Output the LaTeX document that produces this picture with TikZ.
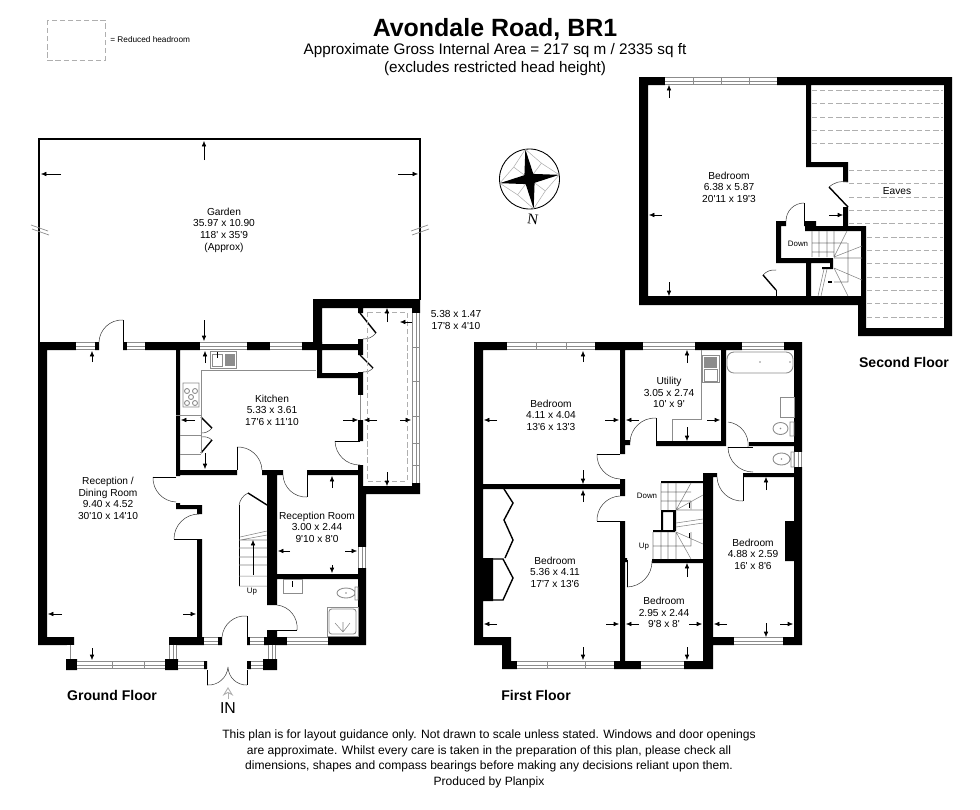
\documentclass[tikz,border=0pt]{standalone}
\usepackage{fontspec}
\usepackage{xcolor}
\usepackage{tikz}
\usetikzlibrary{arrows.meta,shapes.geometric}
\newfontfamily\plansans{Liberation Sans}
\newfontfamily\compassserif{Liberation Serif}
\definecolor{fixgray}{RGB}{140,140,140}
\definecolor{stairgray}{RGB}{130,130,130}

\begin{document}
\begin{tikzpicture}[
    x=0.02cm, y=-0.02cm,
    wall/.style={fill=black},
    win/.style={draw=fixgray, line width=4.5pt, postaction={draw=white, line width=3.7pt}, postaction={draw=fixgray, line width=0.4pt}},
    winbar/.style={draw=fixgray, line width=0.4pt},
    swing/.style={draw=black!75, line width=0.3pt},
    leaf/.style={draw=black, line width=0.8pt},
    fixture/.style={draw=fixgray, line width=0.5pt},
    tread/.style={draw=stairgray, line width=0.3pt},
    roomline/.style={draw=black, line width=0.45pt},
    hidden/.style={draw=fixgray!70, line width=0.35pt, dash pattern=on 3pt off 1.6pt},
    dimarrow/.style={-{Latex[length=3pt,width=2.6pt]}, draw=black, line width=0.3pt},
    room/.style={font=\plansans\fontsize{5.8}{6.6}\selectfont, align=center, inner sep=0pt},
    small/.style={font=\plansans\fontsize{4.5}{5.5}\selectfont, inner sep=0pt},
    floorname/.style={font=\plansans\bfseries\fontsize{8}{9.5}\selectfont, inner sep=0pt},
    note/.style={font=\plansans\fontsize{6.87}{8.85}\selectfont, align=center, inner sep=0pt}
]
\useasboundingbox (0,0) rectangle (980,809);

% Heading
\node[font=\plansans\bfseries\fontsize{14.2}{16}\selectfont, inner sep=0pt] (title) at (495,29) {Avondale Road, BR1};
\node[font=\plansans\fontsize{8.7}{10.2}\selectfont, align=center, inner sep=0pt] (area) at (495,60) {Approximate Gross Internal Area = 217 sq m / 2335 sq ft\\(excludes restricted head height)};
\draw[hidden] (47,20) rectangle (105,60);
\node[small, anchor=west, font=\plansans\fontsize{4.7}{5.5}\selectfont] (legend) at (110,40) {= Reduced headroom};

% Compass
\begin{scope}[shift={(529.5,179)}, rotate=8]
\draw[black, line width=0.5pt] (0,0) circle (30);
\draw[fixgray!70, line width=0.3pt] (0,-30) -- (14,-14) -- (30,0) -- (14,14) -- (0,30) -- (-14,14) -- (-30,0) -- (-14,-14) -- cycle;
\draw[fixgray!70, line width=0.3pt] (14,-14) -- (-14,14) (-14,-14) -- (14,14);
\fill[black] (0,-30) -- (4.5,-4.5) -- (30,0) -- (4.5,4.5) -- (0,30) -- (-4.5,4.5) -- (-30,0) -- (-4.5,-4.5) -- cycle;
\end{scope}
\node[font=\compassserif\fontsize{8.5}{9}\selectfont, rotate=-8, inner sep=0pt] (north) at (533,219) {N};

% Garden
\draw[draw=black, line width=1.2pt] (39,342) -- (39,139) -- (420,139) -- (420,300);
\draw[fixgray, line width=0.4pt] (31,225) -- (48,231) (32,229) -- (49,235) (411,231) -- (428,225) (412,235) -- (429,229);

% Ground floor walls
\fill[wall] (38,342) rectangle (76,350) (95,342) rectangle (99,350) (123,342) rectangle (127,350)
  (145,342) rectangle (200,350) (247,342) rectangle (270,350) (302,342) rectangle (322,350)
  (38,350) rectangle (47,645) (38,637) rectangle (74,645) (169,637) rectangle (204,645)
  (66,659) rectangle (77,670) (165,659) rectangle (178,670) (204,661) rectangle (207,669)
  (247,661) rectangle (251,669) (263,659) rectangle (277,670) (218,637) rectangle (222,645)
  (247,637) rectangle (250,645) (264,637) rectangle (287,645) (267,630) rectangle (277,637)
  (328,637) rectangle (366,645) (358,568) rectangle (366,645) (358,487) rectangle (366,547)
  (358,465) rectangle (363,490) (363,486) rectangle (419,494) (412,483) rectangle (420,494)
  (176,350) rectangle (180,476) (180,470) rectangle (237,475) (262,470) rectangle (283,475)
  (267,475) rectangle (277,605) (307,470) rectangle (358,475) (176,503) rectangle (180,509)
  (176,505) rectangle (202,509) (197,509) rectangle (202,514) (197,539) rectangle (202,637)
  (277,574) rectangle (358,579);
% Kitchen side rooms
\fill[wall] (313,299) rectangle (322,344) (313,299) rectangle (420,308) (412,308) rectangle (420,313)
  (317,344) rectangle (363,350) (358,308) rectangle (363,313) (358,339) rectangle (363,344)
  (358,350) rectangle (363,355) (317,350) rectangle (322,378) (317,373) rectangle (363,378)
  (358,372) rectangle (363,395) (358,420) rectangle (363,441);
% First floor walls
\fill[wall] (474,342) rectangle (507,350) (595,342) rectangle (643,350) (695,342) rectangle (742,350)
  (784,342) rectangle (802,350) (474,350) rectangle (483,645) (474,637) rectangle (511,645)
  (502,645) rectangle (511,669) (502,661) rectangle (517,669) (614,661) rectangle (641,669)
  (684,661) rectangle (713,669) (703,473) rectangle (713,661) (703,473) rectangle (717,477)
  (713,637) rectangle (734,645) (783,637) rectangle (802,645) (794,350) rectangle (802,452)
  (794,467) rectangle (802,637) (785,521) rectangle (794,561) (483,484) rectangle (625,489)
  (620,350) rectangle (625,454) (620,440) rectangle (630,445) (620,479) rectangle (625,496)
  (620,521) rectangle (625,661) (625,558) rectangle (627,562) (656,441) rectangle (726,446)
  (721,350) rectangle (726,446) (749,442) rectangle (794,446) (743,473) rectangle (794,477)
  (661,481) rectangle (703,483) (653,530) rectangle (675,532) (652,559) rectangle (703,563)
  (483,558) rectangle (493,601) (661,510) rectangle (675,512) (661,510) rectangle (663,531)
  (673,510) rectangle (676,531);
% Second floor walls
\fill[wall] (639,77) rectangle (665,85) (777,77) rectangle (952,85) (639,85) rectangle (648,305)
  (639,296) rectangle (866,305) (944,85) rectangle (952,336) (858,328) rectangle (952,336)
  (858,296) rectangle (866,336) (806,85) rectangle (811,167) (806,162) rectangle (848,167)
  (843,167) rectangle (848,182) (843,207) rectangle (848,231) (804,221) rectangle (816,226)
  (805,226) rectangle (866,231) (861,231) rectangle (866,297) (776,221) rectangle (786,226)
  (776,226) rectangle (781,263) (776,258) rectangle (833,263) (806,263) rectangle (811,297)
  (830,260) rectangle (833,269) (822,267) rectangle (833,269);

% Windows
\draw[win] (76,346) -- (95,346) (127,346) -- (145,346) (200,346) -- (247,346) (270,346) -- (302,346);
\draw[win] (70.5,645) -- (70.5,659) (173,645) -- (173,659) (77,665) -- (165,665) (178,665) -- (204,665);
\draw[win] (204,641) -- (218,641) (250,641) -- (264,641) (251,665) -- (263,665) (272,645) -- (272,659);
\draw[win] (287,641) -- (328,641) (362,547) -- (362,568) (360.5,395) -- (360.5,420) (416,313) -- (416,483);
\draw[win] (507,346) -- (595,346) (643,346) -- (695,346) (742,346) -- (784,346) (798,452) -- (798,467);
\draw[win] (734,641) -- (783,641) (517,665) -- (614,665) (641,665) -- (684,665);
\draw[win] (665,81) -- (777,81);
\draw[winbar] (112,661) -- (112,669) (144,661) -- (144,669) (412,347) -- (420,347) (412,381) -- (420,381)
  (412,416) -- (420,416) (412,443) -- (420,443) (412,465) -- (420,465) (536,342) -- (536,350)
  (566,342) -- (566,350) (547,661) -- (547,669) (585,661) -- (585,669) (693,77) -- (693,85)
  (721,77) -- (721,85) (749,77) -- (749,85);

% Door swings
\draw[swing] (99,342) to[bend left=45] (123,320) (176,502) to[bend left=45] (153,477)
  (174,539) to[bend left=45] (199,514) (237,447) to[bend left=45] (262,470)
  (307,497) to[bend left=45] (283,475) (360,465) to[bend left=45] (335,441)
  (277,605) to[bend left=45] (297,630) (222,637) to[bend left=45] (247,616)
  (228,667) to[bend left=45] (207,685) (247,685) to[bend left=45] (228,667)
  (630,442) to[bend left=45] (656,418) (620,479) to[bend left=45] (597,454)
  (597,521) to[bend left=45] (620,496) (652,561) to[bend left=45] (627,587)
  (728,422) to[bend left=45] (748,447) (753,472) to[bend left=45] (728,447)
  (743,501) to[bend left=45] (717,477) (786,221) to[bend left=45] (804,203);
\draw[swing] (829,187) to[bend left=25] (848,182) (763,275) to[bend left=25] (776,270)
  (376,333) to[bend left=25] (363,339) (373,368) to[bend left=25] (363,372)
  (212,428) to[bend left=25] (201,433) (201,437) to[bend left=25] (212,440)
  (239,505) to[bend left=25] (248,493);
% Door leaves
\draw[roomline] (123,342) -- (123,320) (176,477) -- (153,477) (199,539) -- (174,539)
  (237,470) -- (237,447) (307,475) -- (307,497) (360,441) -- (335,441) (277,630) -- (297,630)
  (247,637) -- (247,616) (207,670) -- (207,685) (247,670) -- (247,685) (656,442) -- (656,418)
  (620,454) -- (597,454) (620,521) -- (597,521) (627,560) -- (627,587) (728,447) -- (753,447)
  (743,477) -- (743,501) (804,222) -- (804,203) (776,290) -- (776,297);
\draw[leaf] (848,207) -- (829,187) (776,290) -- (763,275) (360,313) -- (376,333) (360,355) -- (373,368)
  (201,417) -- (212,428) (201,453) -- (212,440) (267,505) -- (248,493);
% Wardrobe doors
\draw[leaf] (504,489) -- (513,503) -- (504,520) -- (513,540) -- (505,558);
\draw[leaf] (493,559) -- (503,559) -- (513,578) -- (503,600) -- (493,600);

% Kitchen fittings
\draw[fixture] (176,415) -- (201,415) (180,435) -- (201,435) (180,454) -- (201,454) (201,453) -- (201,370) -- (316,370);
\draw[fixture] (210,351) rectangle (236,368) (212,354) rectangle (222,366);
\fill[fixgray] (225,354) rectangle (235,366);
\draw[black, line width=0.5pt] (217,352) -- (217,358);
\draw[fixture] (183,383) rectangle (199,407) (187,391) circle (2.5) (195,391) circle (2.5) (191,397) circle (2.5) (187,403) circle (2.5) (195,403) circle (2.5);
% Conservatory reduced headroom
\draw[hidden] (367,312) rectangle (407,481);

% Ground floor stairs and bathroom
\draw[roomline] (239,505) -- (239,586);
\draw[tread] (239,586) -- (267,586) (239,576) -- (267,576) (239,565) -- (267,565) (239,557) -- (267,557)
  (239,548) -- (267,548) (239,540) -- (267,540) (240,537) -- (267,531) (240,540) -- (267,535);
\draw[fixture] (283,579) rectangle (302,593);
\draw[black, line width=0.5pt] (292,581) -- (292,587);
\draw[fixture] (346,593) ellipse (9 and 5) (355,587) rectangle (358,600);
\fill[fixgray] (346,593) circle (0.8);
\draw[fixture] (327,607) rectangle (358,636);
\draw[fixture, rounded corners=1.5pt] (329,609) rectangle (356,634);
\draw[tread] (343,632) -- (335,623) (343,632) -- (343,622) (343,632) -- (350,623);

% First floor fittings
\draw[fixture] (701,350) -- (701,419) -- (672,419) -- (672,441);
\draw[fixture] (702,355) rectangle (719,382) (704,369) rectangle (717,381);
\fill[fixgray] (704,357) rectangle (717,368);
\draw[fixture, rounded corners=4pt] (727,352) rectangle (793,373);
\fill[fixgray] (760,362) circle (0.8) (790,362) circle (0.8);
\draw[fixture] (780,397) rectangle (794,417);
\draw[fixture] (780.5,428.5) ellipse (7.5 and 6) (790,422) rectangle (794,436);
\draw[fixture] (781.5,459) ellipse (8.5 and 6) (791,452) rectangle (794,467);
\fill[fixgray] (780.5,428.5) circle (0.8) (781.5,459) circle (0.8);

% First floor stairs
\draw[tread] (661,483) -- (661,510) (668,483) -- (668,510) (676,483) -- (676,510) (661,492) -- (691,492)
  (661,501) -- (691,501) (676,510) -- (691,483) (676,510) -- (703,495) (676,510) -- (703,510)
  (691,501) -- (691,509) (676,523) -- (703,519) (676,527) -- (703,523);
\draw[tread] (653,532) -- (653,559) (661,532) -- (661,559) (668,532) -- (668,559) (676,532) -- (676,559)
  (653,546) -- (691,546) (676,532) -- (703,544) (676,532) -- (691,559) (691,532) -- (691,546);
\draw[black, line width=0.5pt] (689,503) -- (689,508) (689,533) -- (689,538);

% Second floor stairs
\draw[tread] (812,231) -- (812,257) (819,231) -- (819,257) (827,231) -- (827,257) (834,231) -- (834,257)
  (812,243) -- (847,243) (812,252) -- (834,252) (834,257) -- (847,231) (834,257) -- (862,246)
  (834,258) -- (862,258) (834,268) -- (862,280) (834,268) -- (848,296) (848,243) -- (848,282)
  (834,282) -- (848,282) (824,269) -- (818,296) (827,269) -- (821,296);
\draw[black, line width=0.6pt] (828,282) -- (832,282);

% Eaves
\draw[hidden] (812,90) -- (943,90) (812,103) -- (943,103) (812,117) -- (943,117)
  (812,130) -- (943,130) (812,143) -- (943,143) (849,170) -- (943,170) (849,183) -- (943,183) (849,197) -- (943,197)
  (849,210) -- (943,210) (849,223) -- (943,223) (867,237) -- (943,237) (867,250) -- (943,250) (867,263) -- (943,263)
  (867,277) -- (943,277) (867,290) -- (943,290) (867,303) -- (943,303) (867,317) -- (943,317);

% Dimension arrows: garden and ground floor
\draw[dimarrow] (204,160) -- (204,141);
\draw[dimarrow] (61,174) -- (41,174);
\draw[dimarrow] (398,174) -- (418,174);
\draw[dimarrow] (204,320) -- (204,341);
\draw[dimarrow] (92,362) -- (92,351);
\draw[dimarrow] (62,614) -- (48,614);
\draw[dimarrow] (183,614) -- (196,614);
\draw[dimarrow] (92,648) -- (92,660);
\draw[dimarrow] (205,363) -- (205,351);
\draw[dimarrow] (195,420) -- (181,420);
\draw[dimarrow] (343,420) -- (358,420);
\draw[dimarrow] (205,453) -- (205,469);
\draw[dimarrow] (377,420) -- (364,420);
\draw[dimarrow] (400,420) -- (411,420);
\draw[dimarrow] (387,322) -- (387,308);
\draw[dimarrow] (387,472) -- (387,486);
\draw[dimarrow] (412,322) -- (400,322);
\draw[dimarrow] (332,488) -- (332,476);
\draw[dimarrow] (332,565) -- (332,573);
\draw[dimarrow] (290,551) -- (278,551);
\draw[dimarrow] (345,551) -- (357,551);
\draw[dimarrow] (253,575) -- (253,540);
% First floor
\draw[dimarrow] (583,362) -- (583,351);
\draw[dimarrow] (497,420) -- (484,420);
\draw[dimarrow] (605,420) -- (619,420);
\draw[dimarrow] (583,470) -- (583,484);
\draw[dimarrow] (583,502) -- (583,490);
\draw[dimarrow] (497,624) -- (484,624);
\draw[dimarrow] (606,624) -- (619,624);
\draw[dimarrow] (583,647) -- (583,660);
\draw[dimarrow] (687,363) -- (687,350);
\draw[dimarrow] (639,420) -- (626,420);
\draw[dimarrow] (707,420) -- (720,420);
\draw[dimarrow] (687,427) -- (687,441);
\draw[dimarrow] (687,577) -- (687,563);
\draw[dimarrow] (639,624) -- (626,624);
\draw[dimarrow] (689,624) -- (702,624);
\draw[dimarrow] (687,647) -- (687,660);
\draw[dimarrow] (766,490) -- (766,477);
\draw[dimarrow] (727,624) -- (714,624);
\draw[dimarrow] (780,624) -- (793,624);
\draw[dimarrow] (766,623) -- (766,637);
% Second floor
\draw[dimarrow] (669,98) -- (669,85);
\draw[dimarrow] (662,215) -- (649,215);
\draw[dimarrow] (829,215) -- (843,215);
\draw[dimarrow] (669,282) -- (669,296);
% Entrance
\draw[-{Stealth[open,length=5pt,width=6pt]}, draw=fixgray!70, line width=0.5pt] (228,699) -- (228,687);

% Room labels
\node[room] (garden) at (224,230) {Garden\\35.97 x 10.90\\118' x 35'9\\(Approx)};
\node[room] (reception) at (108,498.5) {Reception /\\Dining Room\\9.40 x 4.52\\30'10 x 14'10};
\node[room] (kitchen) at (272,410) {Kitchen\\5.33 x 3.61\\17'6 x 11'10};
\node[room] (receptionroom) at (317,527) {Reception Room\\3.00 x 2.44\\9'10 x 8'0};
\node[room] (conservatory) at (456,320) {5.38 x 1.47\\17'8 x 4'10};
\node[room] (bedone) at (551,415) {Bedroom\\4.11 x 4.04\\13'6 x 13'3};
\node[room] (utility) at (669,392.5) {Utility\\3.05 x 2.74\\10' x 9'};
\node[room] (bedtwo) at (555,572) {Bedroom\\5.36 x 4.11\\17'7 x 13'6};
\node[room] (bedthree) at (664,612.5) {Bedroom\\2.95 x 2.44\\9'8 x 8'};
\node[room] (bedfour) at (753,554) {Bedroom\\4.88 x 2.59\\16' x 8'6};
\node[room] (bedtop) at (729,187) {Bedroom\\6.38 x 5.87\\20'11 x 19'3};
\node[room] (eaves) at (897,191) {Eaves};
\node[small] (upground) at (252,592) {Up};
\node[small] (downfirst) at (647,496) {Down};
\node[small] (upfirst) at (644,547) {Up};
\node[small] (downtop) at (798,244) {Down};

% Floor names and footer
\node[floorname] (groundfloor) at (112,695) {Ground Floor};
\node[floorname] (firstfloor) at (536,695) {First Floor};
\node[floorname] (secondfloor) at (904,362) {Second Floor};
\node[font=\plansans\fontsize{9}{10}\selectfont, inner sep=0pt] (entry) at (228,708) {IN};
\node[note] (disclaimer) at (489,759) {This plan is for layout guidance only. Not drawn to scale unless stated. Windows and door openings\\are approximate. Whilst every care is taken in the preparation of this plan, please check all\\dimensions, shapes and compass bearings before making any decisions reliant upon them.\\Produced by Planpix};
\end{tikzpicture}
\end{document}
